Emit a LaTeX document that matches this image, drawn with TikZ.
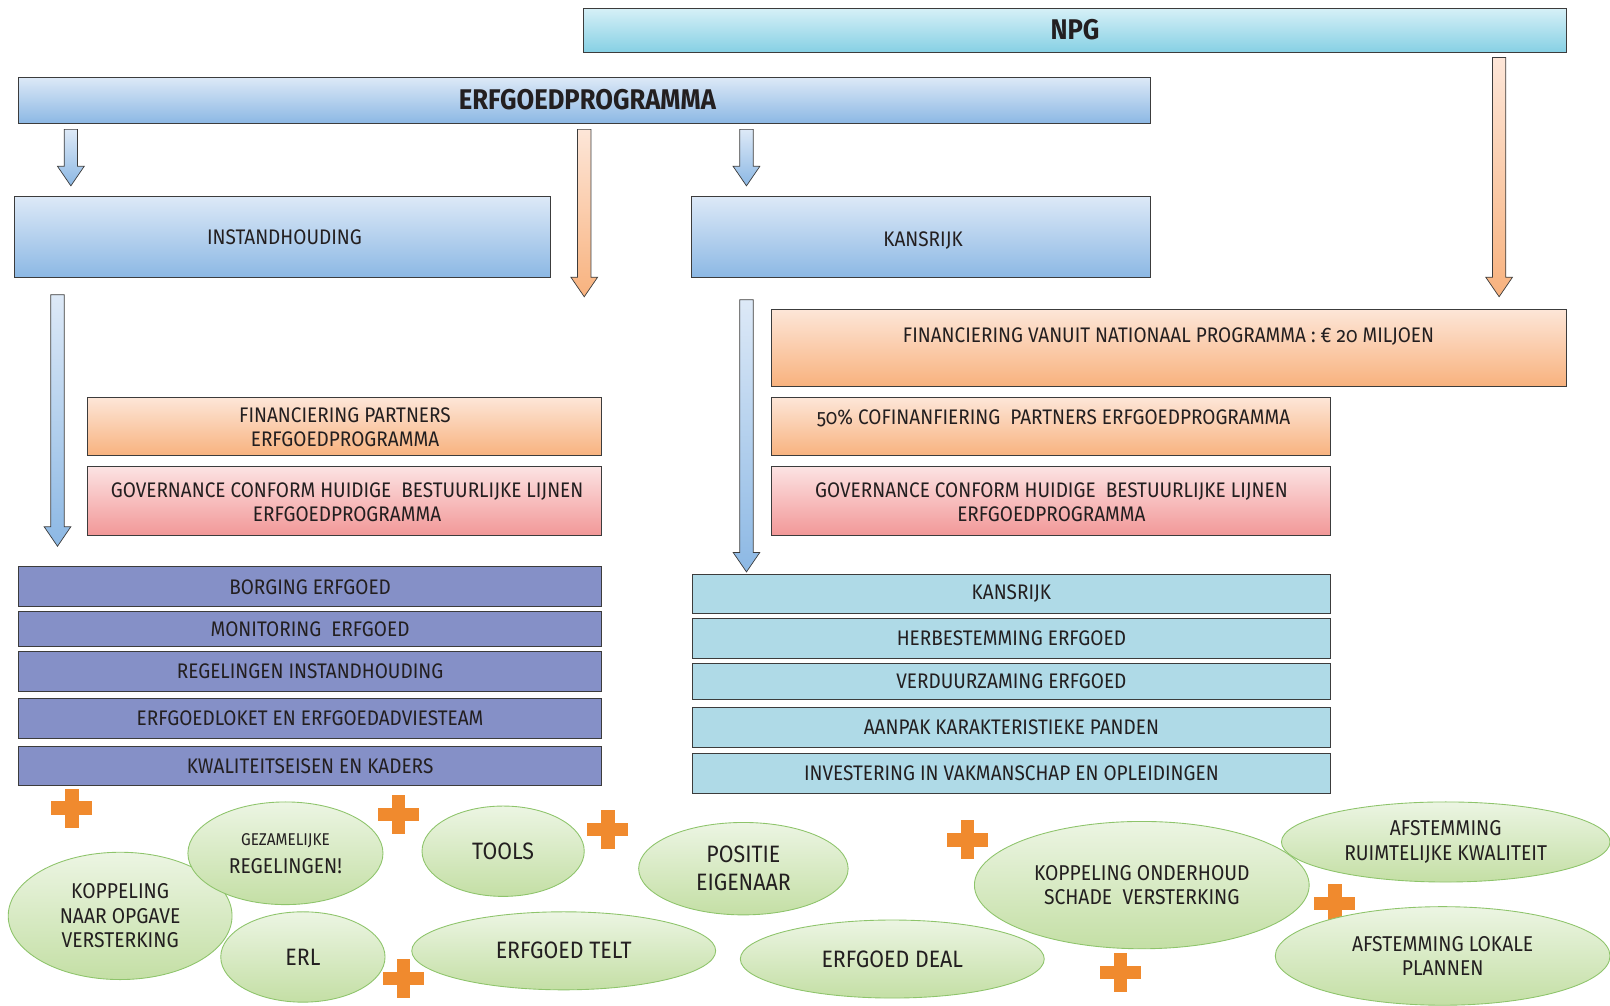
\documentclass[tikz,border=0pt]{standalone}
\usepackage{fontspec}
\setmainfont{Fira Sans}[FakeStretch=0.9, Numbers=OldStyle]
\usetikzlibrary{shapes.geometric,fit,calc}

\definecolor{ink}{HTML}{231F20}
\definecolor{boxline}{HTML}{3C3C3C}
\definecolor{bluetop}{HTML}{DDE9F7}
\definecolor{bluebot}{HTML}{8CB8E4}
\definecolor{npgtop}{HTML}{D6F0F7}
\definecolor{npgbot}{HTML}{86D0E4}
\definecolor{orangetop}{HTML}{FDE6D8}
\definecolor{orangebot}{HTML}{F8B27E}
\definecolor{pinktop}{HTML}{FCE3E3}
\definecolor{pinkbot}{HTML}{F29898}
\definecolor{rowpurple}{HTML}{8590C7}
\definecolor{rowblue}{HTML}{AFDAE7}
\definecolor{greentop}{HTML}{ECF5E3}
\definecolor{greenbot}{HTML}{C4DFA5}
\definecolor{greenline}{HTML}{8EC46B}
\definecolor{plusorange}{HTML}{F08A2E}

\newcommand\px{0.020536cm}
\newcommand\boxfont{\fontsize{12}{14}\selectfont}
\newcommand\headfont{\fontsize{16.2}{18}\selectfont\bfseries}
\newcommand\bubfont{\fontsize{13.5}{16}\selectfont}
\newcommand\bubsmall{\fontsize{12.2}{14}\selectfont}

% block arrow from a named top point down to a named tip
\newcommand\blockarrow[3]{%
  \shade[#3] ($(#1)+(-6.5,0)$) -- ($(#1)+(6.5,0)$) -- ($(#2)+(6.5,-19)$)
    -- ($(#2)+(13,-19)$) -- (#2) -- ($(#2)+(-13,-19)$) -- ($(#2)+(-6.5,-19)$) -- cycle;}

\tikzset{
  box/.style={draw=boxline, line width=0.5pt, inner sep=0pt},
  boxtext/.style={text=ink, align=center, font=\boxfont, inner sep=0pt},
  bluebox/.style={box, top color=bluetop, bottom color=bluebot},
  npgbox/.style={box, top color=npgtop, bottom color=npgbot},
  orangebox/.style={box, top color=orangetop, bottom color=orangebot},
  pinkbox/.style={box, top color=pinktop, bottom color=pinkbot},
  purplerow/.style={box, fill=rowpurple},
  bluerow/.style={box, fill=rowblue},
  bubble/.style={ellipse, draw=greenline, line width=0.5pt, top color=greentop, bottom color=greenbot,
    inner sep=0pt, align=center, text=ink, font=\bubfont},
  bluearrow/.style={draw=boxline, line width=0.4pt, top color=bluetop, bottom color=bluebot},
  orangearrow/.style={draw=boxline, line width=0.4pt, top color=orangetop, bottom color=orangebot},
  plusmark/.pic={
    \fill[plusorange] (-20,-6.5) rectangle (20,6.5);
    \fill[plusorange] (-6.5,-19) rectangle (6.5,19);
  }
}

\begin{document}
\begin{tikzpicture}[x=0.020536cm, y=-0.020536cm]
  \useasboundingbox (0,0) rectangle (1568,979);

  % top bars
  \node[npgbox, fit={(568,8) (1526,51)}] (npg) {};
  \node[font=\headfont, text=ink] (npg-t) at (1047,29) {NPG};
  \node[bluebox, fit={(18,75) (1120,120)}] (erfg) {};
  \node[font=\headfont, text=ink] (erfg-t) at (572,97) {ERFGOEDPROGRAMMA};

  % two branches
  \node[bluebox, fit={(14,191) (536,270)}] (inst) {};
  \node[boxtext] (inst-t) at (277,231) {INSTANDHOUDING};
  \node[bluebox, fit={(673,191) (1120,270)}] (kans) {};
  \node[boxtext] (kans-t) at (899,234) {KANSRIJK};

  % arrows
  \coordinate (a1s) at (69,126);   \coordinate (a1e) at (69,181);
  \coordinate (a2s) at (569,126);  \coordinate (a2e) at (569,289);
  \coordinate (a3s) at (727,126);  \coordinate (a3e) at (727,181);
  \coordinate (a4s) at (1460,56);  \coordinate (a4e) at (1460,289);
  \coordinate (b1s) at (56,287);   \coordinate (b1e) at (56,532);
  \coordinate (b2s) at (727,292);  \coordinate (b2e) at (727,557);
  \blockarrow{a1s}{a1e}{bluearrow}
  \blockarrow{a2s}{a2e}{orangearrow}
  \blockarrow{a3s}{a3e}{bluearrow}
  \blockarrow{a4s}{a4e}{orangearrow}
  \blockarrow{b1s}{b1e}{bluearrow}
  \blockarrow{b2s}{b2e}{bluearrow}

  % financing and governance
  \node[orangebox, fit={(85,387) (586,444)}] (finl) {};
  \node[boxtext] (finl-t) at (336,416) {FINANCIERING PARTNERS\\ERFGOEDPROGRAMMA};
  \node[pinkbox, fit={(85,454) (586,521)}] (govl) {};
  \node[boxtext] (govl-t) at (338,489) {GOVERNANCE CONFORM HUIDIGE~ BESTUURLIJKE LIJNEN\\ERFGOEDPROGRAMMA};
  \node[orangebox, fit={(751,301) (1526,376)}] (finnat) {};
  \node[boxtext] (finnat-t) at (1138,328) {FINANCIERING VANUIT NATIONAAL PROGRAMMA : € 20 MILJOEN};
  \node[orangebox, fit={(751,387) (1296,444)}] (cofin) {};
  \node[boxtext] (cofin-t) at (1026,407) {50\% COFINANFIERING~ PARTNERS ERFGOEDPROGRAMMA};
  \node[pinkbox, fit={(751,454) (1296,521)}] (govr) {};
  \node[boxtext] (govr-t) at (1024,489) {GOVERNANCE CONFORM HUIDIGE~ BESTUURLIJKE LIJNEN\\ERFGOEDPROGRAMMA};

  % rows
  \foreach \name/\ya/\yb/\txt in {borg/552/591/BORGING ERFGOED,
      moni/595/630/MONITORING~ ERFGOED,
      regl/634/673/REGELINGEN INSTANDHOUDING,
      loket/680/719/ERFGOEDLOKET EN ERFGOEDADVIESTEAM,
      kwal/727/765/KWALITEITSEISEN EN KADERS}
  {
    \node[purplerow, fit={(18,\ya) (586,\yb)}] (\name) {};
    \node[boxtext] (\name-t) at (\name) {\txt};
  }
  \foreach \name/\ya/\yb/\txt in {kansrow/559/597/KANSRIJK,
      herb/602/641/HERBESTEMMING ERFGOED,
      verd/646/681/VERDUURZAMING ERFGOED,
      aanp/689/728/AANPAK KARAKTERISTIEKE PANDEN,
      inv/734/773/INVESTERING IN VAKMANSCHAP EN OPLEIDINGEN}
  {
    \node[bluerow, fit={(674,\ya) (1296,\yb)}] (\name) {};
    \node[boxtext] (\name-t) at (\name) {\txt};
  }

  % plus signs
  \pic at (70,787) {plusmark};
  \pic at (388,793) {plusmark};
  \pic at (592,808) {plusmark};
  \pic at (393,953) {plusmark};
  \pic at (942,818) {plusmark};
  \pic at (1300,880) {plusmark};
  \pic at (1091,947) {plusmark};

  % bubbles
  \node[bubble, font=\bubsmall, minimum width=218*\px, minimum height=124*\px] (koppv) at (117,892) {KOPPELING\\NAAR OPGAVE\\VERSTERKING};
  \node[bubble, minimum width=190*\px, minimum height=100*\px] (gez) at (278,831) {{\fontsize{9.7}{12}\selectfont GEZAMELIJKE}\\{\bubsmall REGELINGEN!}};
  \node[bubble, minimum width=158*\px, minimum height=88*\px] (tools) at (490,829) {TOOLS};
  \node[bubble, minimum width=160*\px, minimum height=88*\px] (erl) at (295,932) {ERL};
  \node[bubble, minimum width=296*\px, minimum height=76*\px] (telt) at (549,926) {ERFGOED TELT};
  \node[bubble, minimum width=204*\px, minimum height=90*\px] (pos) at (724,846) {POSITIE\\EIGENAAR};
  \node[bubble, minimum width=296*\px, minimum height=76*\px] (deal) at (869,934) {ERFGOED DEAL};
  \node[bubble, font=\bubsmall, minimum width=326*\px, minimum height=124*\px] (kopps) at (1112,862) {KOPPELING ONDERHOUD\\SCHADE~ VERSTERKING};
  \node[bubble, font=\bubsmall, minimum width=320*\px, minimum height=78*\px] (afruim) at (1408,820) {AFSTEMMING\\RUIMTELIJKE KWALITEIT};
  \node[bubble, font=\bubsmall, minimum width=326*\px, minimum height=96*\px] (aflok) at (1405,931) {AFSTEMMING LOKALE\\PLANNEN};
\end{tikzpicture}
\end{document}
